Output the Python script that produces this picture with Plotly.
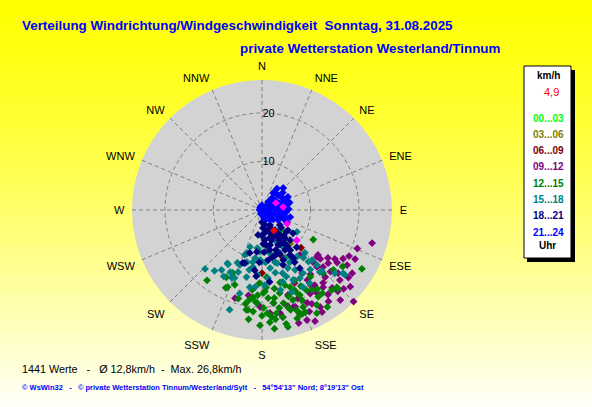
import plotly.graph_objects as go

W, H = 592, 407

# wind direction (deg, from N clockwise) and speed (km/h), grouped by hour of day
dir_00_03 = [136, 161]
spd_00_03 = [5.7, 5.0]

dir_03_06 = [159, 140]
spd_03_06 = [9.3, 9.1]

dir_06_09 = [134, 180, 156]
spd_06_09 = [11.2, 13.0, 10.8]

dir_09_12 = [106.7, 117.9, 117.8, 122.9, 123.9, 128.8, 128.8, 130, 135.6, 136, 132, 129.7,
             136.8, 140, 135, 138, 144, 149.5, 154.5, 157.8, 125, 131, 125, 141.6, 146.5,
             154, 149, 162, 162, 169, 170, 175.6, 197, 189, 147, 147.6, 130.5, 181, 173,
             161, 140, 156, 163, 147, 132,
             126, 133, 137, 142, 145, 150, 152, 155, 158, 160, 165, 143, 139, 134, 128, 121, 112]
spd_09_12 = [23.7, 20.3, 21.7, 20.9, 18.1, 17.5, 14.8, 15.7, 15.0, 16.3, 19.0, 20.4,
             19.0, 19.6, 26.7, 21.6, 23.3, 24.4, 25.4, 24.5, 22.7, 24.1, 18.9, 20.3, 20.5,
             21.3, 23.3, 24.5, 21.0, 22.5, 21.6, 21.3, 19.0, 17.8, 17.2, 15.4, 14.9, 20.0, 19.3,
             21.1, 12.1, 16.5, 18.3, 18.5, 21.6,
             16.8, 17.2, 22.9, 22.1, 18.9, 19.9, 21.9, 23.1, 19.7, 22.8, 20.5, 16.6, 24.6, 23.4, 22.6, 19.5, 21.2]

dir_12_15 = [218, 204, 205, 188, 187, 183, 179, 176, 172, 167, 167.5, 161, 156, 151, 120,
             144, 139, 136, 136, 144, 157, 152, 161, 176, 182, 173, 168, 120.5, 188, 177,
             157, 160, 208, 205, 189, 184, 187, 162, 169, 179, 125, 136, 146, 147, 157, 130,
             163, 155, 172, 156, 148, 164, 176,
             170, 175, 180, 185, 165, 160, 158, 171, 178, 183, 186, 168, 174, 163, 150, 145,
             153, 190, 195, 200, 181, 166, 159, 173, 177]
spd_12_15 = [18.4, 17.4, 14.3, 20.8, 16.6, 19.2, 17.1, 23.2, 21.5, 19.7, 24.7, 21.8, 20.4, 18.9, 12.2,
             21.2, 21.9, 22.5, 18.1, 17.0, 18.7, 24.1, 19.6, 13.9, 15.1, 19.3, 17.5, 23.9, 18.7, 21.3,
             21.7, 16.9, 15.7, 17.7, 20.8, 19.0, 22.7, 23.5, 22.5, 20.2, 20.3, 22.2, 24.1, 21.3, 22.9, 19.2,
             16.2, 16.0, 18.3, 19.2, 19.4, 21.4, 18.2,
             20.5, 22.0, 21.8, 21.0, 20.8, 22.6, 17.8, 16.4, 16.8, 17.6, 18.1, 24.0, 24.6, 18.6, 22.6, 19.9,
             17.6, 19.6, 18.9, 16.4, 23.8, 15.4, 23.0, 22.7, 16.0]

dir_15_18 = [224, 207, 204, 199, 189, 182, 172, 155, 150, 145, 122, 139, 135, 135, 135.5, 131,
             128, 198, 189, 164, 162, 156, 152, 147, 212, 201, 198, 187, 178, 190, 201, 202,
             193, 184, 135, 128, 147, 137, 172, 152, 178, 167, 166, 154, 151, 151, 156, 180,
             175, 188, 202, 214, 213, 141, 138, 164, 160,
             170, 176, 183, 192, 196, 205, 210, 158, 148, 143, 160, 168, 185, 195, 218]
spd_15_18 = [16.9, 14.4, 15.3, 9.4, 11.9, 10.3, 7.7, 7.3, 8.8, 10.1, 8.5, 13.0, 14.6, 16.0, 17.6, 19.9,
             21.2, 21.6, 16.1, 11.4, 13.7, 15.8, 18.0, 18.0, 13.2, 9.9, 8.0, 7.9, 5.6, 10.9, 13.7, 15.1,
             14.2, 13.4, 12.5, 21.7, 15.5, 17.5, 12.1, 12.2, 15.5, 16.9, 11.1, 11.0, 14.1, 16.1, 13.1, 10.7,
             14.1, 10.0, 12.2, 14.9, 13.1, 15.8, 14.3, 15.4, 18.0,
             9.0, 10.8, 8.6, 12.6, 11.2, 12.0, 15.8, 9.4, 11.4, 12.0, 14.6, 13.2, 15.9, 17.8, 15.9]

dir_18_21 = [163, 152, 147, 144, 141, 137, 127, 137, 162, 173, 155, 150, 180, 187, 196, 198,
             163, 130, 128, 164, 173, 157, 187, 145, 169, 177, 148, 185, 174, 200, 180, 170,
             158, 150, 146, 167, 161, 177, 148, 159, 153, 145, 147, 132, 133, 189, 147,
             155, 160, 165, 170, 175, 150, 145, 140, 158, 168, 178, 183, 152, 162]
spd_18_21 = [2.2, 3.5, 4.9, 6.4, 7.5, 8.5, 8.0, 10.5, 6.5, 7.3, 7.9, 9.5, 5.2, 8.7, 9.2, 11.5,
             4.3, 4.8, 6.8, 9.7, 10.4, 11.2, 12.5, 10.1, 8.4, 3.7, 12.7, 13.7, 14.9, 11.6, 2.5, 4.6,
             5.6, 6.6, 8.2, 7.4, 8.7, 8.7, 10.9, 12.1, 5.8, 9.0, 11.8, 6.7, 5.4, 5.2, 14.3,
             4.0, 5.0, 6.0, 3.1, 6.2, 7.2, 5.9, 7.0, 9.8, 10.0, 7.0, 10.8, 8.0, 9.6]

dir_21_24 = [44, 63, 104, 78, 47, 52, 58, 90, 130, 103, 90, 104, 40, 37, 0, 315, 166, 78, 68,
             66, 141, 116, 122, 33, 117, 55, 70, 85, 95, 110, 120, 140, 150, 60, 80, 45, 100,
             75, 35, 50, 88, 112, 130, 165, 270, 200, 340, 35, 60, 95, 108,
             60, 70, 80, 90, 100, 110, 50, 40, 75, 85]
spd_21_24 = [6.3, 6.0, 6.0, 5.1, 4.5, 3.4, 1.9, 0.6, 1.6, 2.7, 3.7, 4.2, 3.2, 2.1, 1.0, 0.6, 1.7, 3.0, 3.8,
             5.2, 2.6, 5.7, 3.9, 4.2, 0.9, 4.8, 4.4, 4.5, 3.2, 3.4, 2.2, 1.2, 1.8, 2.6, 1.4, 1.3, 1.8,
             2.2, 4.4, 5.6, 5.5, 4.8, 3.0, 1.3, 0.5, 0.8, 0.8, 5.4, 4.9, 5.0, 5.3,
             3.0, 2.8, 3.3, 4.8, 4.0, 4.2, 2.4, 2.6, 5.9, 2.0]

dir_latest = [82, 119, 131, 63]
spd_latest = [4.4, 5.9, 9.5, 3.2]

dir_current = [150]
spd_current = [4.9]

groups = [
    ("00...03", "#00ff00", dir_00_03, spd_00_03),
    ("03...06", "#808000", dir_03_06, spd_03_06),
    ("06...09", "#800000", dir_06_09, spd_06_09),
    ("09...12", "#800080", dir_09_12, spd_09_12),
    ("12...15", "#008000", dir_12_15, spd_12_15),
    ("15...18", "#008080", dir_15_18, spd_15_18),
    ("18...21", "#000080", dir_18_21, spd_18_21),
    ("21...24", "#0000ff", dir_21_24, spd_21_24),
]

compass = ["N", "NNE", "NE", "ENE", "E", "ESE", "SE", "SSE",
           "S", "SSW", "SW", "WSW", "W", "WNW", "NW", "NNW"]
compass_deg = [i * 22.5 for i in range(16)]


def px(x):
    return x / W


def py(y):
    return 1 - y / H


fig = go.Figure()

for name, color, d, s in groups:
    fig.add_trace(go.Scatterpolar(
        r=s, theta=d, mode="markers", name=name, showlegend=False,
        marker=dict(symbol="diamond", size=6, color=color, line=dict(width=0)),
    ))

fig.add_trace(go.Scatterpolar(
    r=spd_latest, theta=dir_latest, mode="markers", showlegend=False,
    marker=dict(symbol="diamond", size=6, color="#ff00ff", line=dict(width=0)),
))
fig.add_trace(go.Scatterpolar(
    r=spd_current, theta=dir_current, mode="markers", showlegend=False,
    marker=dict(symbol="diamond", size=6, color="#ff0000", line=dict(width=0)),
))

# background gradient: yellow at top fading to near white
shapes = []
n = 60
for i in range(n):
    t = (i + 0.5) / n
    b = int(round(250 * t ** 1.3))
    shapes.append(dict(
        type="rect", xref="paper", yref="paper", x0=0, x1=1,
        y0=1 - (i + 1) / n, y1=1 - i / n + 0.002,
        fillcolor=f"rgb(255,255,{b})", line=dict(width=0), layer="below",
    ))

# legend box with shadow
shapes.append(dict(type="rect", xref="paper", yref="paper",
                   x0=px(527), x1=px(575), y0=py(262), y1=py(70),
                   fillcolor="black", line=dict(width=0), layer="above"))
shapes.append(dict(type="rect", xref="paper", yref="paper",
                   x0=px(524), x1=px(571), y0=py(258), y1=py(66),
                   fillcolor="white", line=dict(color="black", width=1), layer="above"))

annotations = [
    dict(text="Verteilung Windrichtung/Windgeschwindigkeit\u00a0\u00a0Sonntag, 31.08.2025",
         x=px(20), y=py(25), xanchor="left", yanchor="middle",
         font=dict(size=13.4, color="#0000ff", family="Arial", weight="bold")),
    dict(text="private Wetterstation Westerland/Tinnum",
         x=px(503), y=py(49), xanchor="right", yanchor="middle",
         font=dict(size=13.4, color="#0000ff", family="Arial", weight="bold")),
    dict(text="1441 Werte\u00a0\u00a0\u00a0-\u00a0\u00a0\u00a0\u00d8 12,8km/h\u00a0\u00a0-\u00a0\u00a0Max. 26,8km/h",
         x=px(20), y=py(369), xanchor="left", yanchor="middle",
         font=dict(size=10.8, color="black", family="Arial")),
    dict(text="\u00a9 WsWin32\u00a0\u00a0\u00a0-\u00a0\u00a0\u00a0\u00a9 private Wetterstation Tinnum/Westerland/Sylt"
              "\u00a0\u00a0\u00a0-\u00a0\u00a0\u00a054\u00b054'13\" Nord; 8\u00b019'13\" Ost",
         x=px(20), y=py(387), xanchor="left", yanchor="middle",
         font=dict(size=7.5, color="#0000ff", family="Arial", weight="bold")),
    dict(text="km/h", x=px(548), y=py(75), xanchor="center", yanchor="middle",
         font=dict(size=10, color="black", family="Arial", weight="bold")),
    dict(text="4,9", x=px(551), y=py(92), xanchor="center", yanchor="middle",
         font=dict(size=11, color="#ff0000", family="Arial")),
    dict(text="Uhr", x=px(547), y=py(245), xanchor="center", yanchor="middle",
         font=dict(size=10, color="black", family="Arial", weight="bold")),
]
for i, (name, color, _, _) in enumerate(groups):
    annotations.append(dict(
        text=name, x=px(548), y=py(118 + i * 16.3), xanchor="center", yanchor="middle",
        font=dict(size=10, color=color, family="Arial", weight="bold"),
    ))
for a in annotations:
    a.update(xref="paper", yref="paper", showarrow=False)

fig.update_layout(
    width=W, height=H,
    margin=dict(l=0, r=0, t=0, b=0),
    paper_bgcolor="#ffff00",
    font=dict(family="Arial", size=11, color="black"),
    shapes=shapes,
    annotations=annotations,
    polar=dict(
        domain=dict(x=[px(132), px(392)], y=[py(340), py(80)]),
        bgcolor="#d3d3d3",
        radialaxis=dict(
            range=[0, 26.8], tickvals=[10, 20], angle=90, tickangle=90,
            showline=False, ticks="", gridcolor="#808080", griddash="4px,3px",
            tickfont=dict(size=11, color="black"),
        ),
        angularaxis=dict(
            rotation=90, direction="clockwise",
            tickmode="array", tickvals=compass_deg, ticktext=compass,
            showline=False, ticks="outside", ticklen=5, tickcolor="rgba(0,0,0,0)",
            gridcolor="#808080", griddash="4px,3px",
            tickfont=dict(size=11, color="black"),
        ),
    ),
)

fig.write_html(
    "out.html",
    config={"displayModeBar": False},
    post_script="document.body.style.margin='0';document.body.style.overflow='hidden';",
)
